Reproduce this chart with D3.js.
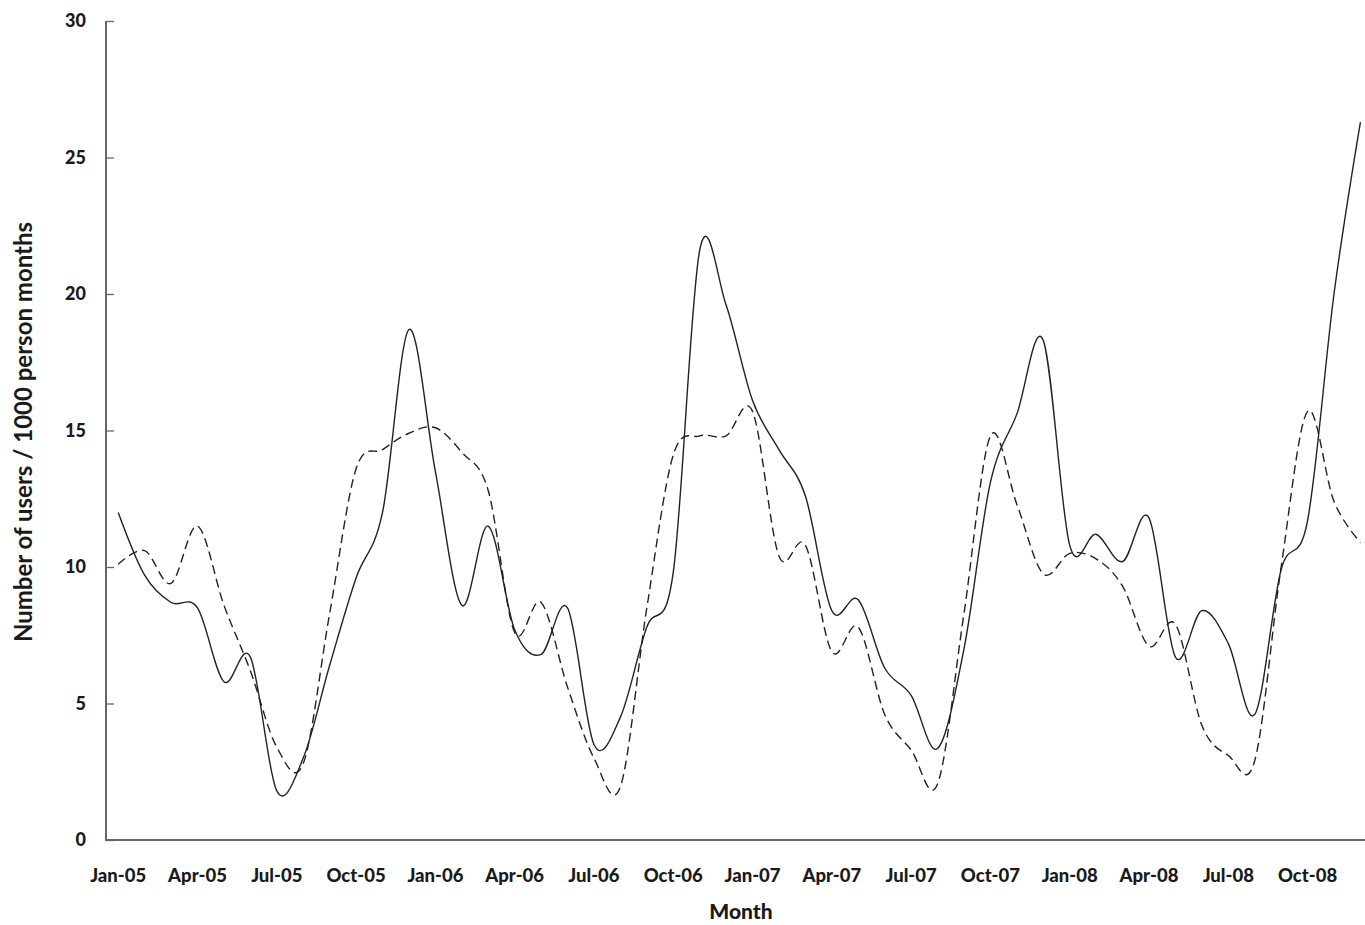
<!DOCTYPE html>
<html>
<head>
<meta charset="utf-8">
<script src="https://cdn.jsdelivr.net/npm/d3@7"></script>
<style>
  html, body { margin: 0; padding: 0; background: #fff; }
  svg { display: block; }
  text { font-family: Lato, "Open Sans", sans-serif; fill: #1a1a1a; }
</style>
</head>
<body>
<svg id="chart" width="1365" height="925"></svg>
<script>
const months = ["Jan-05","Feb-05","Mar-05","Apr-05","May-05","Jun-05","Jul-05","Aug-05","Sep-05","Oct-05","Nov-05","Dec-05",
  "Jan-06","Feb-06","Mar-06","Apr-06","May-06","Jun-06","Jul-06","Aug-06","Sep-06","Oct-06","Nov-06","Dec-06",
  "Jan-07","Feb-07","Mar-07","Apr-07","May-07","Jun-07","Jul-07","Aug-07","Sep-07","Oct-07","Nov-07","Dec-07",
  "Jan-08","Feb-08","Mar-08","Apr-08","May-08","Jun-08","Jul-08","Aug-08","Sep-08","Oct-08","Nov-08","Dec-08"];

const solidSeries = [12.0, 9.7, 8.7, 8.5, 5.8, 6.7, 1.8, 3.0, 6.4, 9.6, 12.0, 18.7,
  13.5, 8.6, 11.5, 7.7, 6.8, 8.5, 3.5, 4.5, 7.8, 9.8, 21.6, 19.6,
  16.1, 14.3, 12.6, 8.4, 8.8, 6.3, 5.3, 3.35, 7.0, 13.1, 15.6, 18.3,
  10.8, 11.2, 10.2, 11.8, 6.7, 8.4, 7.2, 4.6, 9.9, 11.7, 20.0, 26.3];

const dashedSeries = [10.1, 10.6, 9.4, 11.5, 8.6, 6.2, 3.4, 2.8, 8.3, 13.6, 14.3, 14.9,
  15.1, 14.2, 12.8, 7.6, 8.7, 5.6, 3.0, 1.95, 8.5, 14.1, 14.8, 14.8,
  15.7, 10.4, 10.8, 6.9, 7.8, 4.6, 3.3, 2.05, 8.3, 14.8, 12.3, 9.75,
  10.5, 10.3, 9.3, 7.1, 7.9, 4.2, 3.1, 2.9, 10.0, 15.7, 12.4, 10.9];

const xTickLabels = ["Jan-05","Apr-05","Jul-05","Oct-05","Jan-06","Apr-06","Jul-06","Oct-06",
  "Jan-07","Apr-07","Jul-07","Oct-07","Jan-08","Apr-08","Jul-08","Oct-08"];
const yTicks = [0, 5, 10, 15, 20, 25, 30];
const yTitle = "Number of users / 1000 person months";
const xTitle = "Month";

const svg = d3.select("#chart");
const axisLeftX = 106, axisBottomY = 840, axisTopY = 21;

const x = d3.scaleBand().domain(months).range([105, 105 + 48 * 26.43]).padding(0);
const y = d3.scaleLinear().domain([0, 30]).range([axisBottomY, axisTopY]);
const cx = m => x(m) + x.bandwidth() / 2;

// Y axis
const yAxisG = svg.append("g").attr("transform", `translate(${axisLeftX},0)`)
  .call(d3.axisRight(y).tickValues(yTicks).tickSize(8).tickFormat(""));
yAxisG.select(".domain").attr("d", `M0,${axisTopY}V${axisBottomY}`).attr("stroke", "#666").attr("stroke-width", 2);
yAxisG.selectAll(".tick line").attr("stroke", "#666").attr("stroke-width", 1.3);

svg.append("g").selectAll("text").data(yTicks).join("text")
  .attr("x", 86).attr("y", d => y(d)).attr("dy", "0.36em")
  .attr("text-anchor", "end").attr("font-size", 18).attr("font-weight", 900).text(d => d);

// X axis
const xAxisG = svg.append("g").attr("transform", `translate(0,${axisBottomY})`)
  .call(d3.axisBottom(x).tickValues([]).tickSizeOuter(0));
xAxisG.select(".domain").attr("d", `M${axisLeftX - 1},0H1365`).attr("stroke", "#666").attr("stroke-width", 2);

svg.append("g").selectAll("text").data(xTickLabels).join("text")
  .attr("x", d => cx(d)).attr("y", 882)
  .attr("text-anchor", "middle").attr("font-size", 18.5).attr("font-weight", 900).text(d => d);

svg.append("text").attr("x", 741).attr("y", 919).attr("text-anchor", "middle")
  .attr("font-size", 21).attr("font-weight", 900).text(xTitle);

svg.append("text").attr("transform", "translate(32,432) rotate(-90)")
  .attr("text-anchor", "middle").attr("font-size", 24).attr("font-weight", 700).text(yTitle);

// Lines
const line = d3.line().x((d, i) => cx(months[i])).y(d => y(d)).curve(d3.curveCatmullRom.alpha(0));

svg.append("path").datum(dashedSeries).attr("d", line)
  .attr("fill", "none").attr("stroke", "#222").attr("stroke-width", 1.4)
  .attr("stroke-dasharray", "9,5");

svg.append("path").datum(solidSeries).attr("d", line)
  .attr("fill", "none").attr("stroke", "#222").attr("stroke-width", 1.4);
</script>
</body>
</html>
